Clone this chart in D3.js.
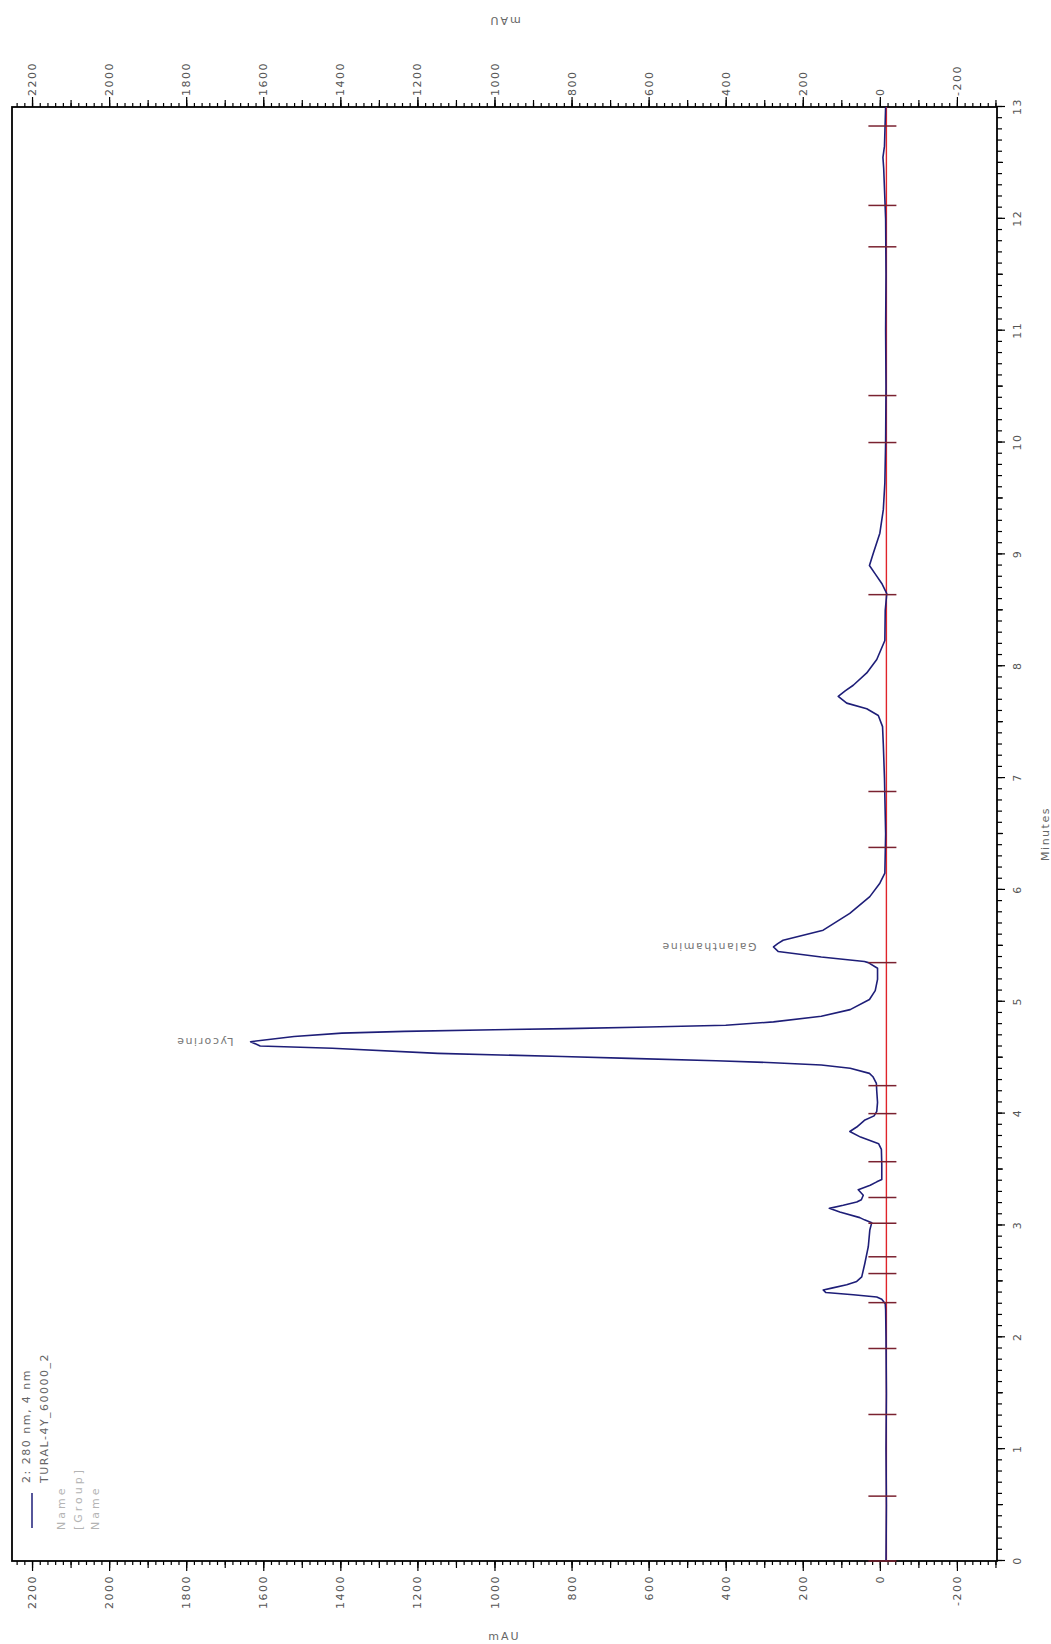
<!DOCTYPE html>
<html>
<head>
<meta charset="utf-8">
<script src="https://cdn.jsdelivr.net/npm/d3@7"></script>
<style>
html,body{margin:0;padding:0;background:#fff;}
svg{display:block;}
</style>
</head>
<body>
<svg id="chart" width="1051" height="1644"></svg>
<script>
// ---- data ----
const minuteTicks = [0,1,2,3,4,5,6,7,8,9,10,11,12,13];
const mauTicks = [-200,0,200,400,600,800,1000,1200,1400,1600,1800,2000,2200];

const traceTime = [0.00,0.50,1.00,1.50,2.00,2.25,2.30,2.34,2.36,2.38,2.40,2.423,2.44,2.47,2.50,2.54,2.66,2.81,2.96,3.025,3.05,3.07,3.12,3.153,3.18,3.21,3.23,3.27,3.32,3.36,3.39,3.41,3.55,3.68,3.73,3.79,3.84,3.88,3.94,3.98,4.02,4.10,4.20,4.27,4.33,4.36,4.405,4.435,4.455,4.473,4.494,4.51,4.539,4.584,4.605,4.643,4.69,4.72,4.735,4.75,4.76,4.775,4.79,4.82,4.87,4.93,5.02,5.10,5.20,5.30,5.35,5.36,5.40,5.45,5.49,5.52,5.55,5.64,5.79,5.94,6.06,6.15,6.50,7.00,7.30,7.46,7.56,7.62,7.67,7.73,7.78,7.83,7.94,8.06,8.23,8.50,8.65,8.74,8.83,8.90,9.01,9.19,9.40,9.64,10.0,10.5,11.0,11.5,12.0,12.45,12.55,12.65,13.0];
const traceMAU  = [-16,-17,-16,-17,-16,-15,-14,-5,8,69,140,147,125,86,60,47,39,30,26,21,40,52,104,131,95,60,48,43,56,25,8,-5,-5,-4,3,50,78,60,40,15,8,6,8,9,18,27,77,152,276,425,650,824,1147,1421,1608,1633,1520,1396,1234,1000,811,600,400,276,152,77,27,12,6,6,30,40,152,264,276,265,251,147,78,26,0,-13,-15,-12,-9,-7,4,34,86,108,90,69,34,8,-13,-14,-18,-5,13,27,17,0,-9,-13,-15,-16,-15,-16,-15,-10,-8,-12,-15];

const peakNames = ["Lycorine","Galanthamine"];
const peakTimes = [4.643,5.49];
const peakMAU   = [1633,276];

const markerTimes = [0.0,0.58,1.31,1.90,2.31,2.57,2.72,3.02,3.25,3.57,4.00,4.25,5.35,6.38,6.88,8.64,10.0,10.42,11.75,12.12,12.83];
const baselineMAU = -17;
const baselineRange = [0,13];

const legendLines = ["2: 280 nm, 4 nm","TURAL-4Y_60000_2"];
const legendExtra = ["Name","[Group]","Name"];

// ---- drawing ----
const W = 1454, H = 985;
const svg = d3.select("#chart");
svg.append("rect").attr("width",1051).attr("height",1644).attr("fill","#fff");

const g = svg.append("g").attr("transform","translate(12,1561) rotate(-90)");

const x = d3.scaleLinear().domain([0,13]).range([0,W]);
const y = d3.scaleLinear().domain([-304,2252]).range([H,0]);

const FONT = "DejaVu Sans";
const fmt = d => String(d);

function styleAxis(sel, labelFill){
  sel.select(".domain").remove();
  sel.selectAll(".tick line").attr("stroke","#000").attr("stroke-width",1.2);
  sel.selectAll(".tick text")
     .attr("font-family",FONT).attr("font-size",11)
     .attr("fill",labelFill||"#555").attr("letter-spacing","1.5px");
}

// mAU axes (screen bottom = original left, screen top = original right)
const minorMAU = d3.range(-300,2251,20);
const midMAU = d3.range(-300,2251,100);
// left
g.append("g").call(d3.axisLeft(y).tickValues(minorMAU).tickSize(4).tickFormat("")).call(s=>styleAxis(s));
g.append("g").call(d3.axisLeft(y).tickValues(midMAU).tickSize(7).tickFormat("")).call(s=>styleAxis(s));
g.append("g").call(d3.axisLeft(y).tickValues(mauTicks).tickSize(10).tickPadding(4).tickFormat(fmt)).call(s=>styleAxis(s));
// right
const gr = g.append("g").attr("transform",`translate(${W},0)`);
gr.append("g").call(d3.axisRight(y).tickValues(minorMAU).tickSize(4).tickFormat("")).call(s=>styleAxis(s));
gr.append("g").call(d3.axisRight(y).tickValues(midMAU).tickSize(7).tickFormat("")).call(s=>styleAxis(s));
gr.append("g").call(d3.axisRight(y).tickValues(mauTicks).tickSize(10).tickPadding(1).tickFormat(fmt)).call(s=>styleAxis(s));

// Minutes axis (screen right = original bottom)
const gb = g.append("g").attr("transform",`translate(0,${H})`);
gb.append("g").call(d3.axisBottom(x).tickValues(d3.range(0,13.001,0.1)).tickSize(5).tickFormat("")).call(s=>styleAxis(s));
gb.append("g").call(d3.axisBottom(x).tickValues(d3.range(0.5,13,1)).tickSize(6).tickFormat("")).call(s=>styleAxis(s));
gb.append("g").call(d3.axisBottom(x).tickValues(minuteTicks).tickSize(8).tickPadding(8).tickFormat(fmt)).call(s=>styleAxis(s));

// frame
g.append("rect").attr("x",0).attr("y",0).attr("width",W).attr("height",H)
  .attr("fill","none").attr("stroke","#000").attr("stroke-width",1.8);

// axis titles
g.append("text").attr("x",W/2).attr("y",H+52).attr("text-anchor","middle")
  .attr("font-family",FONT).attr("font-size",11).attr("fill","#666").attr("letter-spacing","1.5px")
  .text("Minutes");
g.append("text").attr("transform",`translate(${W+90},${H/2}) rotate(-90)`).attr("text-anchor","middle")
  .attr("font-family",FONT).attr("font-size",11).attr("fill","#666").attr("letter-spacing","2px")
  .text("mAU");
g.append("text").attr("transform",`translate(-79,${H/2}) rotate(90)`).attr("text-anchor","middle")
  .attr("font-family",FONT).attr("font-size",11).attr("fill","#666").attr("letter-spacing","2px")
  .text("mAU");

// baseline (red)
g.append("line").attr("x1",x(baselineRange[0])).attr("x2",x(baselineRange[1]))
  .attr("y1",y(baselineMAU)).attr("y2",y(baselineMAU))
  .attr("stroke","#e0242a").attr("stroke-width",1.4);

// trace
const pts = traceTime.map((t,i)=>[t,traceMAU[i]]);
g.append("path").datum(pts)
  .attr("fill","none").attr("stroke","#1e1e78").attr("stroke-width",1.6)
  .attr("stroke-linejoin","round")
  .attr("d",d3.line().x(d=>x(d[0])).y(d=>y(d[1])).curve(d3.curveLinear));

// peak markers
g.selectAll("line.mk").data(markerTimes).enter().append("line").attr("class","mk")
  .attr("x1",d=>x(d)).attr("x2",d=>x(d))
  .attr("y1",y(baselineMAU)-18).attr("y2",y(baselineMAU)+10)
  .attr("stroke","#7a2230").attr("stroke-width",1.5);

// peak labels
g.selectAll("text.pk").data(peakNames).enter().append("text").attr("class","pk")
  .attr("transform",(d,i)=>`translate(${x(peakTimes[i])},${y(peakMAU[i])-17}) rotate(-90)`)
  .attr("dy","0.35em").attr("text-anchor","start")
  .attr("font-family",FONT).attr("font-size",11).attr("fill","#777").attr("letter-spacing","1.5px")
  .text(d=>d);

// legend
g.append("line").attr("x1",33).attr("x2",68).attr("y1",20).attr("y2",20)
  .attr("stroke","#1e1e78").attr("stroke-width",1.5);
legendLines.forEach((t,i)=>{
  g.append("text").attr("x",78).attr("y",18+i*18)
    .attr("font-family",FONT).attr("font-size",11).attr("fill","#666").attr("letter-spacing","1.5px")
    .text(t);
});
legendExtra.forEach((t,i)=>{
  g.append("text").attr("x",31).attr("y",53+i*17)
    .attr("font-family",FONT).attr("font-size",11).attr("fill","#b4b4b4").attr("letter-spacing","3px")
    .text(t);
});
</script>
</body>
</html>
